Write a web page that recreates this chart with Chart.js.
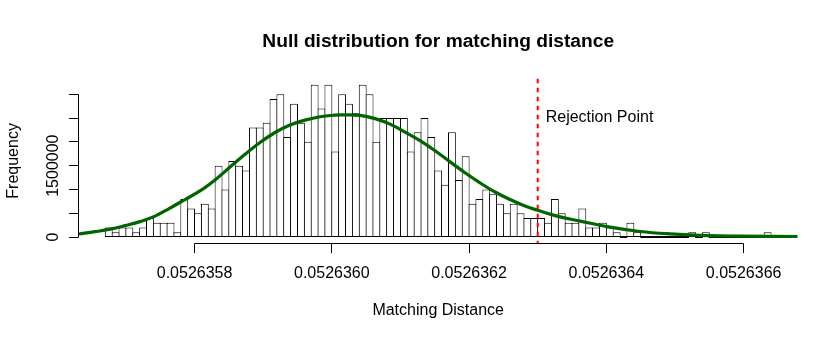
<!DOCTYPE html>
<html>
<head>
<meta charset="utf-8">
<title>Null distribution for matching distance</title>
<script src="https://cdn.jsdelivr.net/npm/chart.js@4.4.1/dist/chart.umd.min.js"></script>
<style>
  html, body { margin: 0; padding: 0; background: #fff; }
  canvas { display: block; }
</style>
</head>
<body>
<canvas id="histChart" width="838" height="341"></canvas>
<script>
// histogram of the null distribution, bins of 1e-8 starting at binStart
var binStart = 0.05263567;
var binWidth = 1e-8;
var binHeights = [
    200000, 100000, 200000, 200000, 100000, 200000, 400000, 300000, 300000, 300000,
    100000, 800000, 600000, 500000, 700000, 600000, 1500000, 1000000, 1600000, 1500000,
    1400000, 2300000, 2300000, 2400000, 2900000, 3000000, 2100000, 2800000, 2400000, 2000000,
    3200000, 2700000, 3200000, 1800000, 3000000, 2800000, 2600000, 3200000, 3000000, 2000000,
    2500000, 2500000, 2500000, 2500000, 1800000, 2200000, 2500000, 2100000, 1400000, 1100000,
    2200000, 1200000, 1700000, 700000, 800000, 1000000, 900000, 700000, 500000, 700000,
    500000, 400000, 400000, 400000, 300000, 800000, 500000, 300000, 300000, 600000,
    200000, 200000, 300000, 200000, 100000, 0, 300000, 100000, 0, 0,
    0, 0, 0, 0, 0, 100000, 0, 100000, 0, 0,
    0, 0, 0, 0, 0, 0, 100000
];

// green fitted curve
var curveX = [
    0.0526356312, 0.0526356550, 0.0526356768, 0.0526356987, 0.0526357205,
    0.0526357424, 0.0526357642, 0.0526357861, 0.0526358079, 0.0526358298,
    0.0526358517, 0.0526358735, 0.0526358954, 0.0526359172, 0.0526359391,
    0.0526359609, 0.0526359828, 0.0526360047, 0.0526360163, 0.0526360411,
    0.0526360630, 0.0526360848, 0.0526361067, 0.0526361285, 0.0526361504,
    0.0526361723, 0.0526361941, 0.0526362160, 0.0526362378, 0.0526362597,
    0.0526362815, 0.0526362990, 0.0526363252, 0.0526363617, 0.0526364054,
    0.0526364491, 0.0526364928, 0.0526365365, 0.0526365948, 0.0526366788
];
var curveY = [
    63000, 112000, 165000, 239000, 323000,
    439000, 608000, 788000, 968000, 1200000,
    1470000, 1739000, 1986000, 2197000, 2356000,
    2457000, 2529000, 2563000, 2567000, 2556000,
    2489000, 2373000, 2204000, 2024000, 1813000,
    1580000, 1352000, 1137000, 946000, 788000,
    651000, 566000, 450000, 334000, 207000,
    116000, 65000, 36000, 19000, 11000
];

var rejectionPoint = 0.0526363;
var rejectionText = 'Rejection Point';
var rejectionTextY = 2520000;

var xTicks = [0.0526358, 0.0526360, 0.0526362, 0.0526364, 0.0526366];
var yTicks = [0, 500000, 1000000, 1500000, 2000000, 2500000, 3000000];
var yTickLabels = ['0', '', '', '1500000', '', '', ''];

var mainTitle = 'Null distribution for matching distance';
var xTitle = 'Matching Distance';
var yTitle = 'Frequency';

var binEnd = binStart + binHeights.length * binWidth;
var xPad = 0.04 * (binEnd - binStart);
var yTop = Math.max.apply(null, binHeights);

var histData = binHeights.map(function (h, i) {
    return { x: binStart + (i + 0.5) * binWidth, y: h };
});
var curveData = curveX.map(function (x, i) {
    return { x: x, y: curveY[i] };
});

var fontFamily = '"Liberation Sans", Arial, Helvetica, sans-serif';
var tickLen = 9.6;

function align(p) {
    return Math.round(p - 0.5) + 0.5;
}

// R base graphics look: abline, text, short axes, rotated labels
var rStyle = {
    id: 'rStyle',
    afterDatasetsDraw: function (chart) {
        var ctx = chart.ctx, area = chart.chartArea;
        var xs = chart.scales.x, ys = chart.scales.y;
        var rx = xs.getPixelForValue(rejectionPoint);
        ctx.save();
        ctx.strokeStyle = '#ff0000';
        ctx.lineWidth = 2;
        ctx.setLineDash([4.5, 4.5]);
        ctx.beginPath();
        ctx.moveTo(rx, area.top);
        ctx.lineTo(rx, area.bottom);
        ctx.stroke();
        ctx.setLineDash([]);
        ctx.fillStyle = '#000';
        ctx.font = '16px ' + fontFamily;
        ctx.textAlign = 'left';
        ctx.textBaseline = 'middle';
        ctx.fillText(rejectionText, rx + 8, ys.getPixelForValue(rejectionTextY));
        ctx.restore();
    },
    afterDraw: function (chart) {
        var ctx = chart.ctx, area = chart.chartArea;
        var xs = chart.scales.x, ys = chart.scales.y;
        var ax = align(area.left), ay = align(area.bottom);
        ctx.save();
        ctx.strokeStyle = '#000';
        ctx.lineWidth = 1;
        ctx.beginPath();
        // y axis
        ctx.moveTo(ax, align(ys.getPixelForValue(yTicks[0])));
        ctx.lineTo(ax, align(ys.getPixelForValue(yTicks[yTicks.length - 1])));
        yTicks.forEach(function (v) {
            var py = align(ys.getPixelForValue(v));
            ctx.moveTo(ax - tickLen, py);
            ctx.lineTo(ax, py);
        });
        // x axis
        ctx.moveTo(align(xs.getPixelForValue(xTicks[0])), ay);
        ctx.lineTo(align(xs.getPixelForValue(xTicks[xTicks.length - 1])), ay);
        xTicks.forEach(function (v) {
            var px = align(xs.getPixelForValue(v));
            ctx.moveTo(px, ay);
            ctx.lineTo(px, ay + tickLen);
        });
        ctx.stroke();

        ctx.fillStyle = '#000';
        ctx.textBaseline = 'alphabetic';
        ctx.textAlign = 'center';
        ctx.font = 'bold 19.2px ' + fontFamily;
        ctx.fillText(mainTitle, (area.left + area.right) / 2, 47);

        ctx.font = '16px ' + fontFamily;
        xTicks.forEach(function (v) {
            ctx.fillText(v.toFixed(7), xs.getPixelForValue(v), area.bottom + 35.2);
        });
        ctx.fillText(xTitle, (area.left + area.right) / 2, area.bottom + 72);

        yTicks.forEach(function (v, i) {
            if (!yTickLabels[i]) return;
            ctx.save();
            ctx.translate(area.left - 21.2, ys.getPixelForValue(v));
            ctx.rotate(-Math.PI / 2);
            ctx.fillText(yTickLabels[i], 0, 0);
            ctx.restore();
        });
        ctx.save();
        ctx.translate(area.left - 60.5, (area.top + area.bottom) / 2);
        ctx.rotate(-Math.PI / 2);
        ctx.fillText(yTitle, 0, 0);
        ctx.restore();
        ctx.restore();
    }
};

var histChart = new Chart(document.getElementById('histChart'), {
    type: 'bar',
    data: {
        datasets: [{
            type: 'line',
            data: curveData,
            borderColor: '#006400',
            borderWidth: 3.2,
            pointRadius: 0,
            fill: false,
            tension: 0.4,
            order: 1
        }, {
            type: 'bar',
            data: histData,
            backgroundColor: '#ffffff',
            borderColor: '#000000',
            borderWidth: 1,
            borderSkipped: false,
            barPercentage: 1.146,
            categoryPercentage: 1,
            minBarLength: 2,
            inflateAmount: 0,
            order: 2
        }]
    },
    options: {
        responsive: false,
        animation: false,
        devicePixelRatio: 1,
        layout: { padding: { top: 78.7, right: 40.3, bottom: 97.9, left: 78.7 } },
        plugins: {
            legend: { display: false },
            tooltip: { enabled: false },
            title: { display: false }
        },
        scales: {
            x: {
                type: 'linear',
                display: false,
                min: binStart - xPad,
                max: binEnd + xPad,
                offset: false,
                grid: { offset: false }
            },
            y: {
                type: 'linear',
                display: false,
                min: -0.04 * yTop,
                max: yTop * 1.04
            }
        }
    },
    plugins: [rStyle]
});
</script>
</body>
</html>
